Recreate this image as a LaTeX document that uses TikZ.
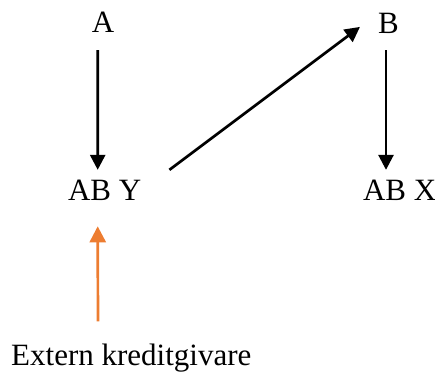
\documentclass[tikz,border=0pt]{standalone}
\usepackage{fontspec}
\setmainfont{Liberation Serif}
\usetikzlibrary{arrows.meta,calc}
\definecolor{orangeArr}{RGB}{237,125,49}
\begin{document}
\begin{tikzpicture}[x=1pt,y=-1pt,
  lbl/.style={inner sep=0pt,anchor=base,font=\fontsize{31}{37}\selectfont},
  arr/.style={line width=2.7pt,-{Triangle[length=15pt,width=15pt]}},
  oarr/.style={arr,draw=orangeArr,-{Triangle[length=16pt,width=16pt,fill=orangeArr]}}]
\useasboundingbox (0,0) rectangle (435,372);
\node[lbl] (A) at (103,32) {A};
\node[lbl] (B) at (388.5,33) {B};
\node[lbl] (ABY) at (104.6,200) {AB Y};
\node[lbl] (ABX) at (399.6,200) {AB X};
\node[lbl,anchor=base west] (EK) at (11,365) {Extern kreditgivare};
\draw[arr] ($(A.south)+(-5.3,18)$) -- ($(ABY.north)+(-6.9,-9.5)$);
\draw[arr] ($(ABY.north east)+(28,-9.5)$) -- ($(B.west)+(-18,4)$);
\draw[arr] ($(B.south)+(-2.5,17)$) -- ($(ABX.north)+(-13.6,-9.5)$);
\draw[oarr] ($(EK.north)+(-33.3,-22)$) -- ($(ABY.south)+(-6.9,26)$);
\end{tikzpicture}
\end{document}
